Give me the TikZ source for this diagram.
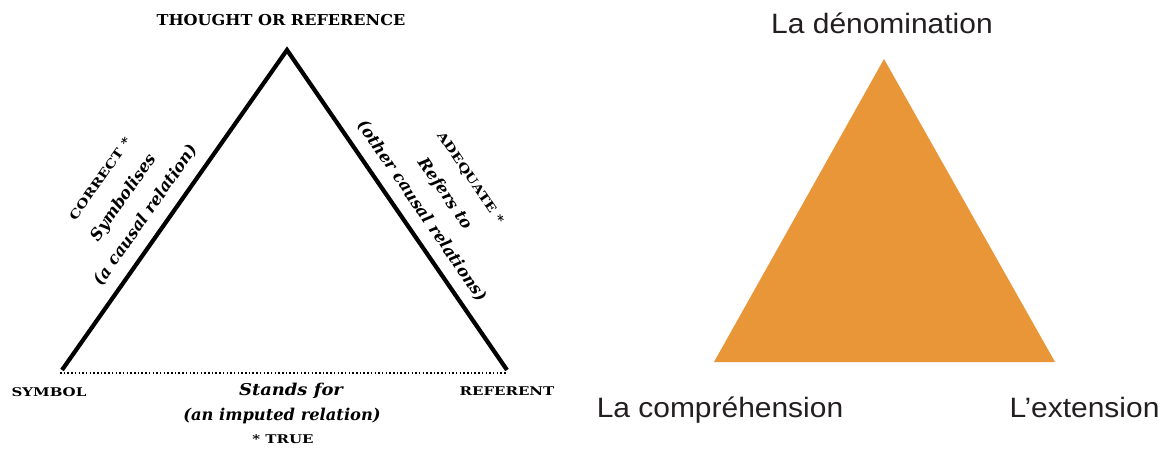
\documentclass[tikz,border=0pt]{standalone}
\usepackage{fontspec}
\newfontfamily\sansfr{Liberation Sans}
\newfontfamily\oldserif{DejaVu Serif}
\definecolor{tri}{RGB}{233,150,56}
\definecolor{txt}{RGB}{35,31,32}
\begin{document}
\begin{tikzpicture}[x=1pt,y=-1pt,
  title/.style={font=\oldserif\fontsize{15}{15}\selectfont\bfseries, xscale=1.07, inner sep=0pt, anchor=base},
  caps/.style={font=\oldserif\fontsize{12}{12}\selectfont\bfseries, xscale=1.25, inner sep=0pt},
  rel/.style={font=\oldserif\fontsize{16.3}{16.3}\selectfont\bfseries\itshape, inner sep=0pt},
  fr/.style={font=\fontsize{28}{28}\selectfont\sansfr, text=txt, xscale=1.07, inner sep=0pt, anchor=base},
  edgeline/.style={line width=4.2pt, line join=miter, line cap=butt},
  dotline/.style={line width=1.6pt, dash pattern=on 1.5pt off 2.2pt},
]
\useasboundingbox[fill=white] (0,0) rectangle (1165,448);

% ---- left: Ogden & Richards triangle ----
\coordinate (S) at (62,370);
\coordinate (T) at (287,50);
\coordinate (R) at (507,370);
\coordinate (D1) at (60,373);
\coordinate (D2) at (507,373);
\draw[edgeline] (S) -- (T) -- (R);
\draw[dotline] (D1) -- (D2);

\node[title] (thought) at (281,25) {THOUGHT OR REFERENCE};
\node[caps, anchor=base] (symbol) at (49,396) {SYMBOL};
\node[caps, anchor=base] (referent) at (507,395) {REFERENT};

\node[rotate=55.06, rel] (causal) at (146,215) {(a causal relation)};
\node[rotate=55.06, rel] (symbolises) at (124,198) {Symbolises};
\node[rotate=55.06, caps] (correct) at (100,179) {CORRECT *};

\node[rotate=-55.65, rel] (other) at (422,211) {(other causal relations)};
\node[rotate=-55.65, rel] (refers) at (445,194) {Refers to};
\node[rotate=-55.65, caps] (adequate) at (470,178) {ADEQUATE *};

\node[rel, anchor=base, xscale=1.1] (stands) at (291,395) {Stands for};
\node[rel, anchor=base] (imputed) at (282,420) {(an imputed relation)};
\node[caps, anchor=base] (true) at (283,443) {* TRUE};

% ---- right: orange triangle ----
\coordinate (C) at (714,362);
\coordinate (N) at (884,59);
\coordinate (E) at (1055,362);
\fill[tri] (C) -- (N) -- (E) -- cycle;

\node[fr] (denom) at (882,33) {La dénomination};
\node[fr] (compr) at (720,417) {La compréhension};
\node[fr] (ext) at (1084.5,417) {L’extension};
\end{tikzpicture}
\end{document}
